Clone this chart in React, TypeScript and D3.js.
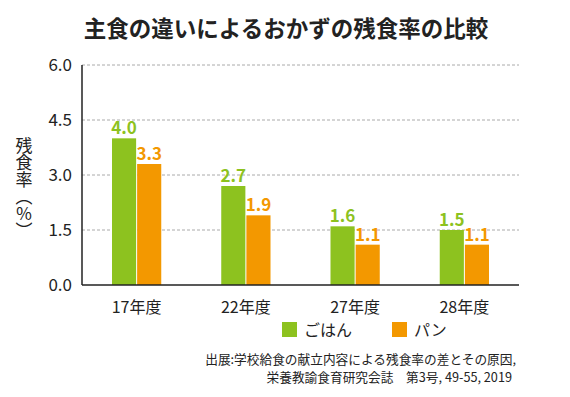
import * as d3 from 'd3'

const categories = ['17年度', '22年度', '27年度', '28年度']
const seriesNames = ['ごはん', 'パン']
const riceValues = [4.0, 2.7, 1.6, 1.5]
const breadValues = [3.3, 1.9, 1.1, 1.1]
const yTickValues = [0, 1.5, 3.0, 4.5, 6.0]
const colors = ['#8dc21f', '#f39800']
// vertical axis title (vertical-form parentheses so they can stay upright)
const yTitle = '残食率︵％︶'

const FONT = '"Noto Sans CJK JP", "Noto Sans", sans-serif'

export default function App() {
  const width = 570
  const height = 397
  const margin = { top: 65, right: 51, bottom: 112, left: 82 }
  const innerWidth = width - margin.left - margin.right
  const innerHeight = height - margin.top - margin.bottom

  const x = d3.scaleBand<string>().domain(categories).range([0, innerWidth]).paddingInner(0.54).paddingOuter(0.27)
  const xSeries = d3.scaleBand<string>().domain(seriesNames).range([0, x.bandwidth()])
  const y = d3.scaleLinear().domain([0, 6]).range([innerHeight, 0])

  const series = [riceValues, breadValues]

  return (
    <div style={{ position: 'fixed', left: 0, top: 0 }}>
      <svg width={width} height={height} style={{ display: 'block', background: '#fff', fontFamily: FONT }}>
        <text x={286} y={37} textAnchor="middle" fontSize={22.5} fontWeight="bold" fill="#222">
          主食の違いによるおかずの残食率の比較
        </text>

        <text
          x={24}
          y={188}
          textAnchor="middle"
          fontSize={17}
          fill="#222"
          style={{ writingMode: 'vertical-rl', textOrientation: 'upright' }}
        >
          {yTitle}
        </text>

        <g transform={`translate(${margin.left}, ${margin.top})`}>
          {yTickValues.map((t) => (
            <g key={t} transform={`translate(0, ${y(t)})`}>
              {t > 0 && (
                <line x1={0} x2={innerWidth} stroke="#aaa" strokeWidth={1} strokeDasharray="3 2" />
              )}
              <text x={-10} y={6} textAnchor="end" fontSize={17} fill="#222">
                {t.toFixed(1)}
              </text>
            </g>
          ))}

          {categories.map((c, i) => (
            <g key={c} transform={`translate(${x(c) ?? 0}, 0)`}>
              {series.map((vals, si) => {
                const bx = xSeries(seriesNames[si]) ?? 0
                const v = vals[i]
                return (
                  <g key={si}>
                    <rect
                      x={bx + 0.5}
                      y={y(v)}
                      width={xSeries.bandwidth() - 1}
                      height={innerHeight - y(v)}
                      fill={colors[si]}
                    />
                    <text
                      x={bx + xSeries.bandwidth() / 2}
                      y={y(v) - 4}
                      textAnchor="middle"
                      fontSize={17}
                      fontWeight="bold"
                      fill={colors[si]}
                    >
                      {v.toFixed(1)}
                    </text>
                  </g>
                )
              })}
              <text x={x.bandwidth() / 2} y={innerHeight + 28} textAnchor="middle" fontSize={16} fill="#222">
                {c}
              </text>
            </g>
          ))}

          <line x1={0} x2={0} y1={0} y2={innerHeight} stroke="#222" strokeWidth={1.5} />
          <line x1={0} x2={innerWidth} y1={innerHeight} y2={innerHeight} stroke="#222" strokeWidth={1.5} />
        </g>

        {seriesNames.map((name, i) => (
          <g key={name} transform={`translate(${282 + i * 110}, 322)`}>
            <rect x={0} y={0} width={15} height={15} fill={colors[i]} />
            <text x={22} y={14} fontSize={16} fill="#222">
              {name}
            </text>
          </g>
        ))}

        <text x={516} y={364} textAnchor="end" fontSize={12.7} fill="#222">
          出展:学校給食の献立内容による残食率の差とその原因,
        </text>
        <text x={512} y={382} textAnchor="end" fontSize={12.7} fill="#222">
          栄養教諭食育研究会誌　第3号, 49-55, 2019
        </text>
      </svg>
    </div>
  )
}
